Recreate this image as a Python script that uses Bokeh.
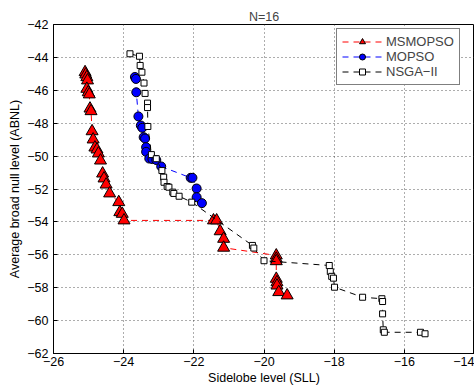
from bokeh.plotting import figure
from bokeh.models import Range1d, Legend, LegendItem
from bokeh.embed import file_html
from bokeh.resources import INLINE

# ---------------- data ----------------
ms_sll = [-25.10, -25.08, -25.05, -25.03, -25.05, -25.01, -24.98, -24.96, -24.93,
          -24.90, -24.87, -24.82, -24.76, -24.72, -24.66, -24.60, -24.56, -24.50,
          -24.40, -24.14, -24.11, -24.04, -23.99, -21.44, -21.35, -21.25, -21.15,
          -21.15, -19.65, -19.65, -19.65, -19.65, -19.63, -19.63, -19.58, -19.34]
ms_abnl = [-44.90, -45.04, -45.20, -45.40, -45.91, -46.12, -46.25, -47.11, -47.27,
           -48.49, -48.99, -49.48, -49.60, -49.84, -50.27, -51.06, -51.36, -51.73,
           -52.27, -52.80, -53.41, -53.51, -53.91, -53.91, -53.91, -54.57, -55.03,
           -55.57, -56.04, -56.24, -56.39, -57.46, -57.67, -57.87, -58.27, -58.47]

mo_sll = [-23.68, -23.65, -23.64, -23.58, -23.51, -23.47, -23.43, -23.39, -23.36,
          -23.36, -23.27, -23.18, -23.07, -22.93, -22.09, -22.04, -21.92, -21.92, -21.77]
mo_abnl = [-45.19, -45.31, -46.12, -47.59, -48.14, -48.28, -48.85, -48.93, -49.46,
           -49.74, -50.15, -50.18, -50.24, -50.63, -51.32, -51.32, -51.97, -52.50, -52.86]

ns_sll = [-23.82, -23.55, -23.53, -23.48, -23.42, -23.39, -23.32, -23.32, -23.31,
          -23.21, -23.07, -22.91, -22.86, -22.85, -22.76, -22.71, -22.60, -22.57,
          -22.42, -22.06, -20.33, -20.29, -20.00, -18.14, -18.11, -18.07, -18.02,
          -17.99, -17.19, -16.64, -16.62, -16.62, -16.60, -16.57, -15.54, -15.41]
ns_abnl = [-43.78, -43.93, -44.49, -44.90, -45.56, -46.19, -46.78, -47.05, -48.20,
           -49.91, -50.16, -50.88, -51.28, -51.59, -51.85, -51.89, -52.19, -52.27,
           -52.44, -52.80, -55.43, -55.59, -56.36, -56.65, -57.02, -57.31, -57.42,
           -57.97, -58.58, -58.67, -58.84, -59.59, -60.56, -60.71, -60.71, -60.80]

x_ticks = [-26, -24, -22, -20, -18, -16, -14]
x_tick_labels = ["\u221226", "\u221224", "\u221222", "\u221220", "\u221218", "\u221216", "\u221214"]
y_ticks = [-62, -60, -58, -56, -54, -52, -50, -48, -46, -44, -42]
y_tick_labels = ["\u2212%d" % abs(t) for t in y_ticks]

series_names = ["MSMOPSO", "MOPSO", "NSGA\u2212II"]

FONT = "Liberation Sans"
FS = "12.5px"

p = figure(width=474, height=389, output_backend="svg", toolbar_location=None,
           x_range=Range1d(-26, -14), y_range=Range1d(-62, -42),
           min_border_left=53, min_border_right=0, min_border_top=24, min_border_bottom=36,
           title="N=16")
p.background_fill_color = "white"
p.border_fill_color = "white"
p.outline_line_color = "black"
p.outline_line_width = 1

p.title.align = "center"
p.title.text_font = FONT
p.title.text_font_size = FS
p.title.text_font_style = "normal"
p.title.standoff = 2

for ax in (p.xaxis[0], p.yaxis[0]):
    ax.axis_line_color = "black"
    ax.major_tick_in = 4
    ax.major_tick_out = 0
    ax.minor_tick_line_color = None
    ax.major_tick_line_color = "black"
    ax.major_label_text_font = FONT
    ax.major_label_text_font_size = FS
    ax.major_label_text_color = "black"
    ax.axis_label_text_font = FONT
    ax.axis_label_text_font_size = FS
    ax.axis_label_text_font_style = "normal"
    ax.axis_label_text_color = "black"

p.xaxis.ticker = x_ticks
p.yaxis.ticker = y_ticks
p.xaxis.major_label_overrides = dict(zip(x_ticks, x_tick_labels))
p.yaxis.major_label_overrides = dict(zip(y_ticks, y_tick_labels))
p.xaxis.axis_label = "Sidelobe level (SLL)"
p.yaxis.axis_label = "Average broad null level (ABNL)"
p.xaxis.major_label_standoff = 3
p.xaxis.axis_label_standoff = 2
p.yaxis.major_label_standoff = 5
p.yaxis.axis_label_standoff = 2

p.grid.grid_line_color = "#333333"
p.grid.grid_line_dash = "1 3"
p.grid.grid_line_width = 1
p.grid.grid_line_alpha = 0.8

DASH = "6 5"
l1 = p.line(ms_sll, ms_abnl, line_color="#ff0000", line_dash=DASH, line_width=1)
m1 = p.scatter(ms_sll, ms_abnl, marker="triangle", size=12, fill_color="#ff0000",
               line_color="black", line_width=1)
l2 = p.line(mo_sll, mo_abnl, line_color="#0000ff", line_dash=DASH, line_width=1)
m2 = p.scatter(mo_sll, mo_abnl, marker="circle", size=9, fill_color="#0000ff",
               line_color="black", line_width=1)
l3 = p.line(ns_sll, ns_abnl, line_color="black", line_dash=DASH, line_width=1)
m3 = p.scatter(ns_sll, ns_abnl, marker="square", size=6, fill_color="white",
               line_color="black", line_width=1)

legend = Legend(items=[
    LegendItem(label=series_names[0], renderers=[l1, m1]),
    LegendItem(label=series_names[1], renderers=[l2, m2]),
    LegendItem(label=series_names[2], renderers=[l3, m3]),
], location=(283, 268))
legend.margin = 0
legend.padding = 5
legend.spacing = 0
legend.glyph_width = 40
legend.glyph_height = 15
legend.label_height = 15
legend.label_standoff = 4
legend.label_text_font = FONT
legend.label_text_font_size = "13px"
legend.border_line_color = "black"
legend.border_line_width = 1
legend.background_fill_color = "white"
legend.background_fill_alpha = 1
p.add_layout(legend)

open("out.html", "w").write(file_html(p, INLINE))
